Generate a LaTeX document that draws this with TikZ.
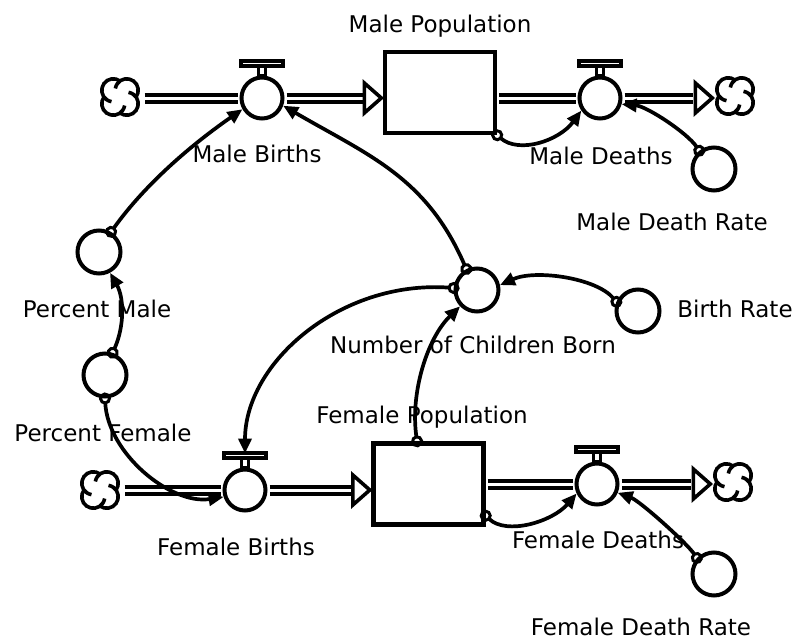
\documentclass[tikz,border=0pt]{standalone}
\usepackage{fontspec}
\setmainfont{DejaVu Sans}
\usetikzlibrary{arrows.meta,calc}
\newcommand\valvetop[1]{%
  \draw[valvepart] ([xshift=-3.7pt]#1.north) rectangle ([xshift=3.7pt,yshift=9.5pt]#1.north);
  \draw[valvepart] ([xshift=-21pt,yshift=9.5pt]#1.north) rectangle ([xshift=21pt,yshift=14.5pt]#1.north);}
\tikzset{
  lbl/.style={font=\fontsize{23}{27}\selectfont, inner sep=0pt, anchor=base},
  valve/.style={circle, draw, line width=4pt, minimum size=41pt, inner sep=0pt, fill=white},
  aux/.style={circle, draw, line width=4pt, minimum size=43pt, inner sep=0pt},
  stock/.style={rectangle, draw, line width=4.4pt, minimum width=110pt, minimum height=81pt, inner sep=0pt, fill=white},
  cloudspot/.style={circle, minimum size=45pt, inner sep=0pt},
  pipe/.style={draw, line width=4pt, double=white, double distance=3pt, shorten <=2pt, shorten >=2pt},
  pipehead/.style={draw, line width=3.6pt, fill=white, line join=miter},
  link/.style={draw, line width=3.7pt, {Circle[open,length=12pt,width=12pt,line width=3pt]}-{Triangle[length=15pt,width=13pt]}, shorten <=-6pt},
  valvepart/.style={draw, line width=3.2pt, fill=white},
  cloudline/.style={draw, line width=3.6pt},
  cloudpic/.pic={\foreach \a in {45,135,225,315}{%
      \draw[cloudline, x=1pt, y=1pt] (\a:9.5) ++({\a-81}:11.5) arc[start angle={\a-81}, end angle={\a+126}, radius=11.5];}}
}
\begin{document}
\begin{tikzpicture}[x=1pt,y=-1pt]
\useasboundingbox (0,0) rectangle (804,640);
% stocks
\node[stock] (mp) at (440,92.5) {};
\node[stock] (fp) at (428.5,484) {};
% valves
\node[valve] (mb) at (262,98) {};
\node[valve] (md) at (600,98) {};
\node[valve] (fb) at (245,490) {};
\node[valve] (fd) at (597,484) {};
% auxiliaries
\node[aux] (pm) at (99,252) {};
\node[aux] (pf) at (105,375) {};
\node[aux] (ncb) at (477,290) {};
\node[aux] (br) at (638,311) {};
\node[aux] (mdr) at (714,169) {};
\node[aux] (fdr) at (714,574) {};
% clouds
\node[cloudspot] (ms) at (120,97) {};
\node[cloudspot] (mk) at (735,96) {};
\node[cloudspot] (fs) at (100,490) {};
\node[cloudspot] (fk) at (733,482) {};
\pic at (ms) {cloudpic};
\pic at (mk) {cloudpic};
\pic at (fs) {cloudpic};
\pic at (fk) {cloudpic};
% valve tops
\valvetop{mb}
\valvetop{md}
\valvetop{fb}
\valvetop{fd}
% pipes
\draw[pipe] (ms.east |- mb) -- (mb.west);
\draw[pipe] (mb.east) -- ([xshift=-17pt]mb.east -| mp.west);
\draw[pipehead] ([xshift=-1.5pt]mb.east -| mp.west) -- ++(-17,-15) -- ++(0,30) -- cycle;
\draw[pipe] (mp.east |- md) -- (md.west);
\draw[pipe] (md.east) -- ([xshift=-17pt]mk.west |- md);
\draw[pipehead] (mk.west |- md) -- ++(-17,-15) -- ++(0,30) -- cycle;
\draw[pipe] (fs.east |- fb) -- (fb.west);
\draw[pipe] (fb.east) -- ([xshift=-17pt]fb.east -| fp.west);
\draw[pipehead] ([xshift=-1.5pt]fb.east -| fp.west) -- ++(-17,-15) -- ++(0,30) -- cycle;
\draw[pipe] (fp.east |- fd) -- (fd.west);
\draw[pipe] (fd.east) -- ([xshift=-17pt]fk.west |- fd);
\draw[pipehead] (fk.west |- fd) -- ++(-17,-15) -- ++(0,30) -- cycle;
% links
\draw[link] (pm.59) .. controls +(35,-49) and +(-49,34) .. (mb.210);
\draw[link] (pf.71) .. controls +(12,-27) and +(14,25) .. (pm.-62);
\draw[link] (pf.south) .. controls +(3,55) and +(-53,8) .. (fb.198);
\draw[link] (ncb.117) .. controls +(-40,-92) and +(86,50) .. (mb.-20);
\draw[link] (ncb.175) .. controls +(-113,-8) and +(0,-91) .. ([yshift=14pt]fb.north);
\draw[link] (br.157) .. controls +(-20,-24) and +(35,-16) .. (ncb.12);
\draw[link] (fp.105) .. controls +(-7,-48) and +(-33,32) .. (ncb.224);
\draw[link] (mp.south east) .. controls +(22,19) and +(-22,30) .. (md.214);
\draw[link] (mdr.129) .. controls +(-12,-18) and +(25,2) .. (md.-16);
\draw[link] (fp.-29) .. controls +(21,20) and +(-24,28) .. (fd.205);
\draw[link] (fdr.137) .. controls +(-10,-15) and +(22,8) .. (fd.-23);
% labels
\node[lbl] (lmp) at (440,32) {Male Population};
\node[lbl] (lmb) at (257,162) {Male Births};
\node[lbl] (lmd) at (601,164) {Male Deaths};
\node[lbl] (lmdr) at (672,230) {Male Death Rate};
\node[lbl] (lpm) at (97,317) {Percent Male};
\node[lbl] (lpf) at (103,441) {Percent Female};
\node[lbl] (lncb) at (473,353) {Number of Children Born};
\node[lbl] (lbr) at (735,317) {Birth Rate};
\node[lbl] (lfp) at (422,423) {Female Population};
\node[lbl] (lfb) at (236,555) {Female Births};
\node[lbl] (lfd) at (598,548) {Female Deaths};
\node[lbl] (lfdr) at (641,635) {Female Death Rate};
\end{tikzpicture}
\end{document}
